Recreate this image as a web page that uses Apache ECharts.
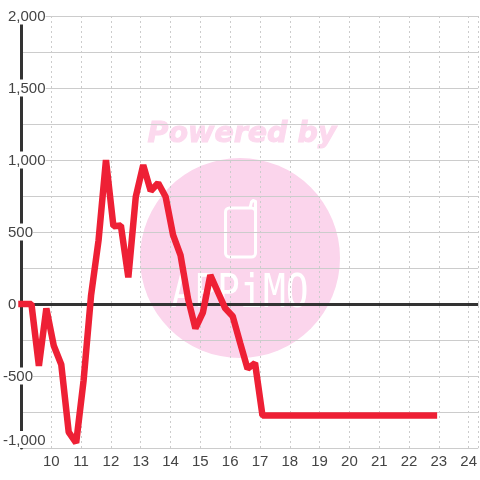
<!DOCTYPE html>
<html><head><meta charset="utf-8">
<style>html,body{margin:0;padding:0;background:#fff}#c{width:480px;height:480px}</style>
<script src="https://cdn.jsdelivr.net/npm/echarts@6/dist/echarts.min.js"></script>
</head><body><div id="c"></div>
<script>
const times = ["9:00","9:20","9:35","9:50","10:05","10:20","10:35","10:50","11:05","11:20","11:35","11:50",
"12:05","12:20","12:35","12:50","13:05","13:20","13:35","13:50","14:05","14:20","14:35","14:50",
"15:05","15:20","15:35","15:50","16:05","16:20","16:35","16:50","17:05","17:20","17:35","17:50",
"18:05","18:20","18:35","18:50","19:05","19:20","19:35","19:50","20:05","20:20","20:35","20:50",
"21:05","21:20","21:35","21:50","22:05","22:20","22:35","22:50"];
const values = [0,0,-430,-30,-290,-420,-890,-965,-530,60,440,1000,
540,545,185,745,965,785,840,745,480,340,40,-170,
-60,200,85,-30,-85,-270,-450,-410,-775,-775,-775,-775,
-775,-775,-775,-775,-775,-775,-775,-775,-775,-775,-775,-775,
-775,-775,-775,-775,-775,-775,-775,-775];
const hourTicks = [10,11,12,13,14,15,16,17,18,19,20,21,22,23,24];
const yMin = -1000, yMax = 2000, yStep = 250, yLabelStep = 500;
const xMin = 9, xMax = 24.32;
const toHours = t => { const [h,m] = t.split(':').map(Number); return h + m/60; };
const pts = times.map((t,i)=>[toHours(t), values[i]]);
const chart = echarts.init(document.getElementById('c'), null, {renderer:'canvas'});
const pink = '#fbd5ec';
chart.setOption({
  animation:false,
  grid:{left:20.5, right:0, top:16, bottom:32},
  graphic:[
    {type:'circle', z:-1, shape:{cx:240, cy:258, r:100}, style:{fill:pink}},
    {type:'text', z:-1, x:242, y:135, style:{text:'Powered by', fill:'#fcd9ee', stroke:'#fcd9ee', lineWidth:1, font:'italic bold 28.5px "DejaVu Sans"', textAlign:'center', textVerticalAlign:'middle'}},
    {type:'rect', z:-1, shape:{x:225.5,y:208,width:30,height:49,r:4}, style:{fill:'none',stroke:'#fff',lineWidth:3}},
    {type:'polyline', z:-1, shape:{points:[[250,208],[251.5,202],[253,200.5],[255.5,201.5],[255.5,212]]}, style:{fill:'none',stroke:'#fff',lineWidth:3,lineJoin:'round'}},
    {type:'text', z:-1, x:240, y:295, scaleY:1.2, style:{text:'APPiMO', fill:'#fff', font:'38px "DejaVu Sans Mono"', textAlign:'center', textVerticalAlign:'middle'}}
  ],
  xAxis:{type:'value', min:xMin, max:xMax, interval:1,
    axisLine:{show:false}, axisTick:{show:false},
    splitLine:{show:true, lineStyle:{color:'#ccc', type:[2,3], width:1}},
    axisLabel:{color:'#444', fontFamily:'"Liberation Sans"', fontSize:15, margin:6,
      showMinLabel:false, showMaxLabel:false,
      formatter:v=>hourTicks.includes(v)?String(v):''}},
  yAxis:{type:'value', min:yMin, max:yMax, interval:yStep,
    axisLine:{show:true, lineStyle:{color:'#333', width:3}}, axisTick:{show:false},
    splitLine:{show:true, lineStyle:{color:'#ccc', width:1}},
    axisLabel:{color:'#444', fontFamily:'"Liberation Sans"', fontSize:15, margin:18.5,
      align:'left', backgroundColor:'#fff', padding:[2,0,0,0], verticalAlignMinLabel:'bottom',
      rich:{p:{padding:[0,0,0,5], fontFamily:'"Liberation Sans"', fontSize:15, color:'#444'}},
      formatter:v=>{
        if (v%yLabelStep!==0) return '';
        const s = v.toLocaleString('en-US');
        return v<0 ? s : '{p|'+s+'}';
      }}},
  series:[
    {type:'line', data:pts, showSymbol:false, symbol:'none', clip:false, z:5,
     lineStyle:{color:'#ee2035', width:6.5, cap:'square', join:'bevel'},
     markLine:{silent:true, symbol:'none', label:{show:false}, animation:false, z:3,
       lineStyle:{color:'#333', width:3, type:'solid'},
       data:[[{coord:[xMin,0]},{coord:[xMax,0]}]]}}
  ]
});
</script></body></html>
